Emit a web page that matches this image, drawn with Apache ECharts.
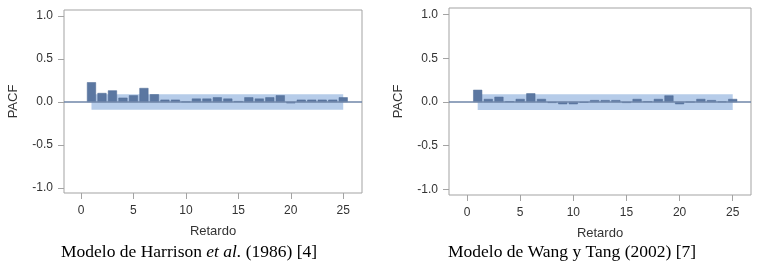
<!DOCTYPE html>
<html>
<head>
<meta charset="utf-8">
<script src="https://cdn.jsdelivr.net/npm/echarts@6/dist/echarts.min.js"></script>
<style>
  html, body { margin: 0; padding: 0; background: #fff; }
  #chart { width: 761px; height: 266px; }
</style>
</head>
<body>
<div id="chart"></div>
<script>
const lags = [1, 2, 3, 4, 5, 6, 7, 8, 9, 10, 11, 12, 13, 14, 15, 16, 17, 18, 19, 20, 21, 22, 23, 24, 25];

const pacfHarrison = [0.23, 0.105, 0.135, 0.05, 0.078, 0.163, 0.09, 0.027, 0.027, 0.003,
  0.04, 0.04, 0.055, 0.04, 0.01, 0.055, 0.04, 0.055, 0.078, -0.015,
  0.027, 0.027, 0.027, 0.027, 0.055];

const pacfWang = [0.14, 0.035, 0.06, 0.008, 0.035, 0.10, 0.035, -0.01, -0.025, -0.025,
  -0.008, 0.022, 0.022, 0.022, -0.01, 0.035, 0.008, 0.035, 0.075, -0.025,
  0.0, 0.035, 0.022, 0.005, 0.035];

// confidence limits (+/-)
const bandHarrison = 0.09;
const bandWang = 0.09;

const xTicks = [0, 5, 10, 15, 20, 25];
const yTicks = [-1.0, -0.5, 0.0, 0.5, 1.0];

const captions = [
  ["Modelo de Harrison ", "et al.", " (1986) [4]"],
  ["Modelo de Wang y Tang (2002) [7]"]
];

const chart = echarts.init(document.getElementById("chart"));

const barColor = "#5b77a1";
const bandColor = "#b6cce9";
const axisGray = "#a3a3a3";
const labelColor = "#333";

const grids = [
  { left: 64, top: 10, width: 298, height: 183, xMin: -1.62, xMax: 26.79, yMin: -1.058, yMax: 1.07 },
  { left: 449, top: 8, width: 302, height: 187, xMin: -1.7, xMax: 26.72, yMin: -1.065, yMax: 1.077 }
];

const seriesData = [pacfHarrison, pacfWang];
const bands = [bandHarrison, bandWang];

const option = {
  animation: false,
  grid: grids.map(g => ({
    left: g.left, top: g.top, width: g.width, height: g.height,
    show: true, borderColor: axisGray, borderWidth: 1, backgroundColor: "transparent"
  })),
  xAxis: grids.map((g, i) => ({
    type: "value",
    gridIndex: i,
    min: g.xMin,
    max: g.xMax,
    name: "Retardo",
    nameLocation: "middle",
    nameGap: 32,
    nameTextStyle: { fontFamily: "Liberation Sans", fontSize: 13, color: labelColor },
    axisLine: { show: false, onZero: false },
    splitLine: { show: false },
    axisTick: { show: true, length: 6, customValues: xTicks, lineStyle: { color: axisGray } },
    axisLabel: {
      customValues: xTicks, margin: 12,
      fontFamily: "Liberation Sans", fontSize: 12, color: labelColor
    }
  })),
  yAxis: grids.map((g, i) => ({
    type: "value",
    gridIndex: i,
    min: g.yMin,
    max: g.yMax,
    name: "PACF",
    nameLocation: "middle",
    nameRotate: 90,
    nameGap: 44,
    nameTextStyle: { fontFamily: "Liberation Sans", fontSize: 13, color: labelColor },
    axisLine: { show: false, onZero: false },
    splitLine: { show: false },
    axisTick: { show: true, length: 6, customValues: yTicks, lineStyle: { color: axisGray } },
    axisLabel: {
      customValues: yTicks, margin: 11,
      fontFamily: "Liberation Sans", fontSize: 12, color: labelColor,
      formatter: v => v.toFixed(1)
    }
  })),
  series: [],
  graphic: [
    {
      type: "text", left: 61, top: 243,
      style: {
        text: "{n|" + captions[0][0] + "}{i|" + captions[0][1] + "}{n|" + captions[0][2] + "}",
        rich: {
          n: { fontFamily: "Liberation Serif", fontSize: 17.5, fill: "#000" },
          i: { fontFamily: "Liberation Serif", fontSize: 17.5, fontStyle: "italic", fill: "#000" }
        }
      }
    },
    {
      type: "text", left: 448, top: 243,
      style: { text: captions[1][0], fontFamily: "Liberation Serif", fontSize: 17.5, fill: "#000" }
    }
  ]
};

seriesData.forEach((vals, i) => {
  option.series.push({
    type: "line",
    xAxisIndex: i,
    yAxisIndex: i,
    data: [],
    z: 1,
    silent: true,
    markArea: {
      silent: true,
      itemStyle: { color: bandColor, opacity: 1 },
      data: [[{ xAxis: lags[0], yAxis: -bands[i] }, { xAxis: lags[lags.length - 1], yAxis: bands[i] }]]
    }
  });
  option.series.push({
    type: "bar",
    xAxisIndex: i,
    yAxisIndex: i,
    z: 2,
    barWidth: 9,
    data: lags.map((l, k) => [l, vals[k]]),
    itemStyle: { color: barColor, borderColor: "#4f6b95", borderWidth: 0.5 },
    markLine: {
      silent: true,
      symbol: "none",
      label: { show: false },
      lineStyle: { color: "#6f86a8", width: 1.5, type: "solid" },
      data: [{ yAxis: 0 }]
    }
  });
});

chart.setOption(option);
</script>
</body>
</html>
